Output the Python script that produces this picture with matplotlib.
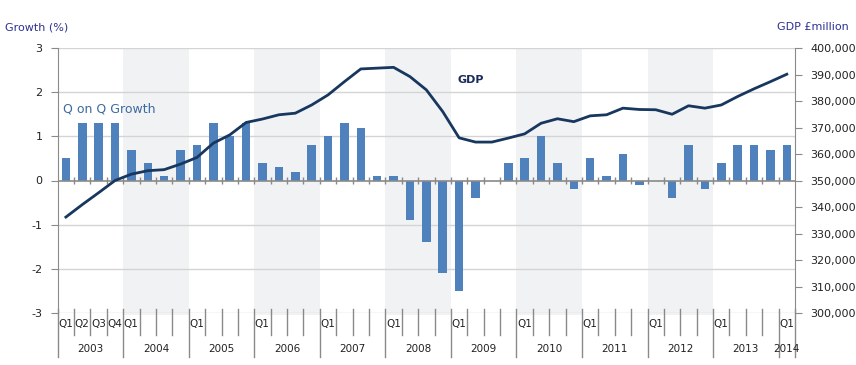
import matplotlib.pyplot as plt
from matplotlib.ticker import FuncFormatter

plt.rcParams['axes.unicode_minus'] = False

# quarterly data, 2003 Q1 .. 2014 Q1
years = [2003, 2004, 2005, 2006, 2007, 2008, 2009, 2010, 2011, 2012, 2013, 2014]
growth = [0.5, 1.3, 1.3, 1.3,
          0.7, 0.4, 0.1, 0.7,
          0.8, 1.3, 1.0, 1.3,
          0.4, 0.3, 0.2, 0.8,
          1.0, 1.3, 1.2, 0.1,
          0.1, -0.9, -1.4, -2.1,
          -2.5, -0.4, 0.0, 0.4,
          0.5, 1.0, 0.4, -0.2,
          0.5, 0.1, 0.6, -0.1,
          0.0, -0.4, 0.8, -0.2,
          0.4, 0.8, 0.8, 0.7,
          0.8]
gdp = [336200, 340900, 345400, 350000,
       352400, 353700, 354100, 356200,
       358700, 364100, 367200, 371900,
       373200, 374800, 375400, 378500,
       382300, 387300, 392100, 392400,
       392700, 389200, 384200, 376000,
       366100, 364500, 364500, 366000,
       367600, 371600, 373300, 372200,
       374400, 374800, 377300, 376800,
       376700, 375000, 378200, 377300,
       378500, 381700, 384600, 387300,
       390100]
shaded_years = [2004, 2006, 2008, 2010, 2012]
left_ticks = [-3, -2, -1, 0, 1, 2, 3]
right_ticks = list(range(300000, 400001, 10000))

BAR = '#4f81bd'
LINE = '#17375e'
BAND = '#f1f2f4'
GRID = '#d4d4d4'
AXC = '#8a8a8a'
TITLE = '#2e3192'

n = len(growth)
x = list(range(n))

fig = plt.figure(figsize=(8.56, 3.65), dpi=100)
ax = fig.add_axes([57.7 / 856, 1 - 313 / 365, (795 - 57.7) / 856, 265 / 365])

# shaded alternate years
for yr in shaded_years:
    s = (yr - 2003) * 4 - 0.5
    band = ax.axvspan(s, min(s + 4, n - 0.5), ymin=-0.008, ymax=1, color=BAND, lw=0, zorder=0)
    band.set_clip_on(False)

for t in left_ticks:
    if t != 0:
        ax.axhline(t, color=GRID, lw=1, zorder=1)

ax.bar(x, growth, width=0.52, color=BAR, zorder=3)
ax.axhline(0, color=AXC, lw=1.2, zorder=4)
ax.vlines([k - 0.5 for k in range(1, n)], -0.08, 0.08, color=AXC, lw=1, zorder=4)

ax.set_xlim(-0.5, n - 0.5)
ax.set_ylim(-3, 3)
ax.set_yticks(left_ticks)
ax.set_xticks([])
ax.tick_params(axis='y', length=5, color=AXC, labelsize=8, pad=6, labelcolor='#222222')
for side in ['top', 'bottom', 'right']:
    ax.spines[side].set_visible(False)
ax.spines['left'].set_color(AXC)

# quarter / year separators and labels under the axis
xt = ax.get_xaxis_transform()
for k in range(n + 1):
    is_year = (k % 4 == 0) or k == n
    y_end = -0.166 if is_year else -0.083
    ax.plot([k - 0.5, k - 0.5], [0.015, y_end], color=AXC, lw=1, transform=xt, clip_on=False)
for k in range(n):
    if k < 4 or k % 4 == 0:
        ax.text(k - 0.5 + 0.03, -0.04, f'Q{k % 4 + 1}', transform=xt, fontsize=7.5,
                ha='left', va='center', color='#222222')
for yr in years:
    s = (yr - 2003) * 4 - 0.5
    e = min(s + 4, n - 0.5)
    ax.text((s + e) / 2, -0.135, str(yr), transform=xt, fontsize=7.5,
            ha='center', va='center', color='#222222')

# GDP line on secondary axis
ax2 = ax.twinx()
ax2.plot(x, gdp, color=LINE, lw=2, zorder=5, solid_joinstyle='round')
ax2.set_ylim(300000, 400000)
ax2.set_yticks(right_ticks)
ax2.yaxis.set_major_formatter(FuncFormatter(lambda v, p: f'{int(v):,}'))
ax2.tick_params(axis='y', length=5, color=AXC, labelsize=8, pad=6, labelcolor='#222222')
for side in ['top', 'bottom', 'left']:
    ax2.spines[side].set_visible(False)
ax2.spines['right'].set_color(AXC)

fig.text(5 / 856, 1 - 27 / 365, 'Growth (%)', fontsize=8, color=TITLE, ha='left', va='center')
fig.text(849 / 856, 1 - 27 / 365, 'GDP £million', fontsize=8, color=TITLE, ha='right', va='center')
fig.text(63 / 856, 1 - 109 / 365, 'Q on Q Growth', fontsize=9, color='#3d6a9e', ha='left', va='center')
fig.text(457 / 856, 1 - 80 / 365, 'GDP', fontsize=8, fontweight='bold', color='#1a2a5a',
         ha='left', va='center')

fig.savefig('out.png', dpi=100)
